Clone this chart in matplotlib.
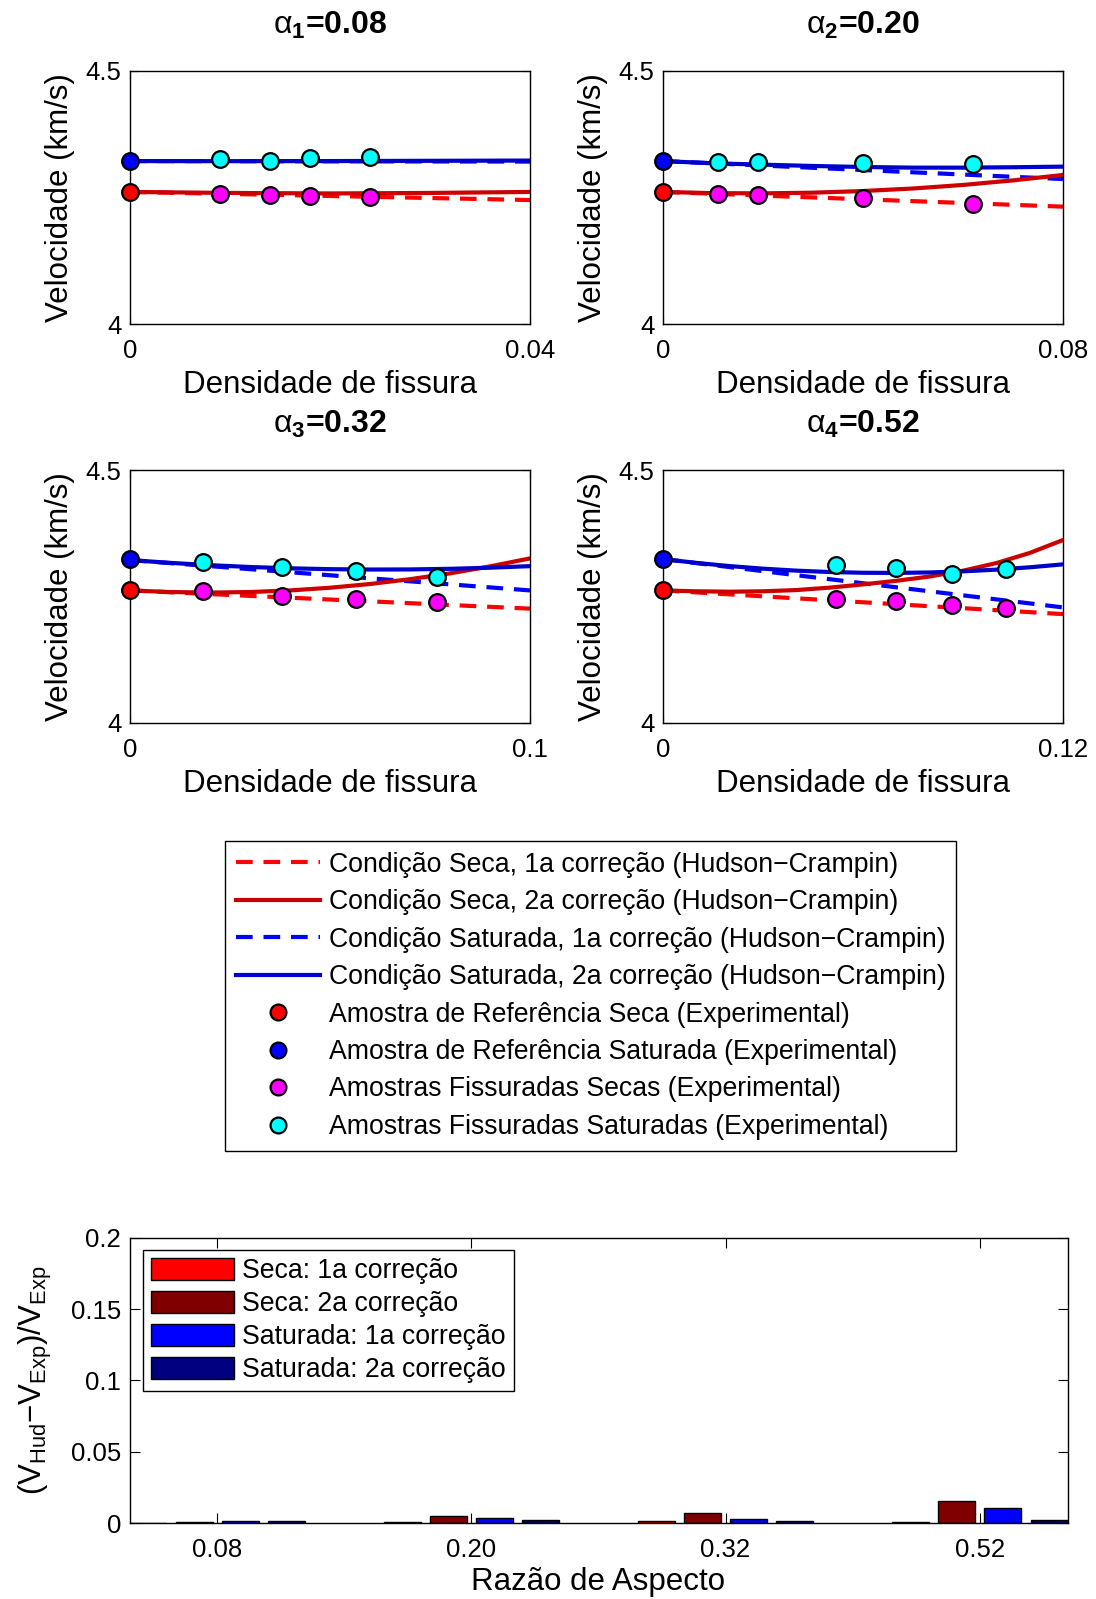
import matplotlib
matplotlib.use('Agg')
import matplotlib.pyplot as plt
from matplotlib.lines import Line2D
from matplotlib.patches import Patch
import numpy as np

plt.rcParams['font.family'] = ['Liberation Sans', 'DejaVu Sans']
plt.rcParams['mathtext.fontset'] = 'custom'
plt.rcParams['mathtext.rm'] = 'Liberation Sans'
plt.rcParams['mathtext.it'] = 'Liberation Sans:italic'
plt.rcParams['mathtext.bf'] = 'Liberation Sans:bold'

# ---------------- data ----------------
alpha_labels = ['0.08', '0.20', '0.32', '0.52']
xmax_vals = [0.04, 0.08, 0.1, 0.12]
xmax_labels = ['0.04', '0.08', '0.1', '0.12']

# model curves (crack density samples and velocities, km/s)
d_a1 = [0.0, 0.01, 0.02, 0.03, 0.04]
dry1_a1 = [4.261, 4.257, 4.253, 4.249, 4.245]
dry2_a1 = [4.261, 4.259, 4.258, 4.259, 4.261]
sat1_a1 = [4.322, 4.3218, 4.3215, 4.3212, 4.321]
sat2_a1 = [4.322, 4.3218, 4.322, 4.3225, 4.323]

d_a2 = [0.0, 0.01, 0.02, 0.03, 0.04, 0.05, 0.06, 0.07, 0.08]
dry1_a2 = [4.261, 4.2574, 4.2537, 4.2501, 4.2464, 4.2428, 4.2392, 4.2355, 4.2319]
dry2_a2 = [4.261, 4.2586, 4.2582, 4.2595, 4.2628, 4.2678, 4.2748, 4.2838, 4.2945]
sat1_a2 = [4.322, 4.3176, 4.3131, 4.3087, 4.3043, 4.2998, 4.2954, 4.2909, 4.2865]
sat2_a2 = [4.322, 4.3176, 4.3149, 4.3123, 4.3103, 4.309, 4.309, 4.3098, 4.311]

d_a3 = [0.0, 0.01, 0.02, 0.03, 0.04, 0.05, 0.06, 0.07, 0.08, 0.09, 0.1]
dry1_a3 = [4.262, 4.2584, 4.2548, 4.2512, 4.2476, 4.244, 4.2404, 4.2368, 4.2332, 4.2296, 4.226]
dry2_a3 = [4.262, 4.2588, 4.2578, 4.2588, 4.262, 4.2673, 4.2747, 4.2842, 4.2957, 4.3095, 4.3253]
sat1_a3 = [4.322, 4.316, 4.310, 4.304, 4.298, 4.292, 4.286, 4.280, 4.274, 4.268, 4.262]
sat2_a3 = [4.322, 4.3165, 4.3119, 4.3083, 4.3057, 4.304, 4.3033, 4.3035, 4.3047, 4.3069, 4.310]

d_a4 = [0.0, 0.01, 0.02, 0.03, 0.04, 0.05, 0.06, 0.07, 0.08, 0.09, 0.1, 0.11, 0.12]
dry1_a4 = [4.262, 4.2581, 4.2542, 4.2503, 4.2464, 4.2425, 4.2386, 4.2347, 4.2308, 4.2269, 4.223, 4.2191, 4.2152]
dry2_a4 = [4.262, 4.2603, 4.2595, 4.2603, 4.2627, 4.2675, 4.2739, 4.281, 4.2895, 4.301, 4.316, 4.336, 4.3616]
sat1_a4 = [4.324, 4.316, 4.3081, 4.3001, 4.2921, 4.2842, 4.2762, 4.2682, 4.2603, 4.2523, 4.2443, 4.2364, 4.2284]
sat2_a4 = [4.324, 4.3164, 4.3101, 4.305, 4.3011, 4.2984, 4.2969, 4.2966, 4.2975, 4.2997, 4.3031, 4.3077, 4.3135]

# experimental points
ref_dry = [4.261, 4.261, 4.262, 4.262]
ref_sat = [4.323, 4.323, 4.324, 4.325]
crack_d_a1 = [0.009, 0.014, 0.018, 0.024]
crack_d_a2 = [0.011, 0.019, 0.040, 0.062]
crack_d_a3 = [0.0183, 0.0379, 0.0564, 0.0767]
crack_d_a4 = [0.0519, 0.0698, 0.0866, 0.1029]
crack_dry_a1 = [4.2569, 4.2543, 4.2536, 4.2516]
crack_dry_a2 = [4.2563, 4.2543, 4.2484, 4.2372]
crack_dry_a3 = [4.2613, 4.2514, 4.2449, 4.2389]
crack_dry_a4 = [4.2443, 4.2403, 4.233, 4.2271]
crack_sat_a1 = [4.3255, 4.3228, 4.3281, 4.3307]
crack_sat_a2 = [4.3202, 4.3202, 4.3176, 4.3156]
crack_sat_a3 = [4.3174, 4.3088, 4.2996, 4.289]
crack_sat_a4 = [4.3115, 4.3068, 4.2943, 4.3036]

# relative error bars
bar_categories = ['0.08', '0.20', '0.32', '0.52']
err_dry1 = [0.0003, 0.0009, 0.0014, 0.0009]
err_dry2 = [0.0010, 0.0049, 0.0072, 0.0156]
err_sat1 = [0.0017, 0.0035, 0.0030, 0.0103]
err_sat2 = [0.0014, 0.0021, 0.0018, 0.0021]

legend_labels = [
    'Condição Seca, 1a correção (Hudson−Crampin)',
    'Condição Seca, 2a correção (Hudson−Crampin)',
    'Condição Saturada, 1a correção (Hudson−Crampin)',
    'Condição Saturada, 2a correção (Hudson−Crampin)',
    'Amostra de Referência Seca (Experimental)',
    'Amostra de Referência Saturada (Experimental)',
    'Amostras Fissuradas Secas (Experimental)',
    'Amostras Fissuradas Saturadas (Experimental)',
]
bar_labels = ['Seca: 1a correção', 'Seca: 2a correção',
              'Saturada: 1a correção', 'Saturada: 2a correção']

# ---------------- style ----------------
W, H = 1096, 1599
fig = plt.figure(figsize=(W / 100, H / 100), dpi=100)
fig.patch.set_facecolor('white')

C_RED_D = '#ff0000'
C_RED_S = '#cc0000'
C_BLU_D = '#0000ff'
C_BLU_S = '#0000cc'
LW = 3.0
DASH = (4, 2.6)
MS = 12
MEW = 1.6
TICK_FS = 18.5
LAB_FS = 22.5
LEG_FS = 19.2

def px_axes(x0, y0, x1, y1):
    return fig.add_axes([x0 / W, 1 - y1 / H, (x1 - x0) / W, (y1 - y0) / H])

panel_boxes = [(130, 71, 530, 324), (663, 71, 1063, 324),
               (130, 470, 530, 723), (663, 470, 1063, 723)]
curves = [
    (d_a1, dry1_a1, dry2_a1, sat1_a1, sat2_a1),
    (d_a2, dry1_a2, dry2_a2, sat1_a2, sat2_a2),
    (d_a3, dry1_a3, dry2_a3, sat1_a3, sat2_a3),
    (d_a4, dry1_a4, dry2_a4, sat1_a4, sat2_a4),
]
points = [
    (crack_d_a1, crack_dry_a1, crack_sat_a1),
    (crack_d_a2, crack_dry_a2, crack_sat_a2),
    (crack_d_a3, crack_dry_a3, crack_sat_a3),
    (crack_d_a4, crack_dry_a4, crack_sat_a4),
]

for i in range(4):
    ax = px_axes(*panel_boxes[i])
    d, dry1, dry2, sat1, sat2 = curves[i]
    cd, cdry, csat = points[i]
    ax.plot(d, dry1, color=C_RED_D, lw=LW, dashes=DASH, zorder=2)
    ax.plot(d, sat1, color=C_BLU_D, lw=LW, dashes=DASH, zorder=2)
    ax.plot(d, dry2, color=C_RED_S, lw=LW, zorder=2)
    ax.plot(d, sat2, color=C_BLU_S, lw=LW, zorder=2)
    mk = dict(ls='none', marker='o', ms=MS, mec='black', mew=MEW, zorder=4, clip_on=False)
    ax.plot([0], [ref_dry[i]], mfc='#ff0000', **mk)
    ax.plot([0], [ref_sat[i]], mfc='#0000ff', **mk)
    ax.plot(cd, cdry, mfc='#ff00ff', **mk)
    ax.plot(cd, csat, mfc='#00ffff', **mk)
    ax.set_xlim(0, xmax_vals[i])
    ax.set_ylim(4, 4.5)
    ax.set_xticks([0, xmax_vals[i]])
    ax.set_xticklabels(['0', xmax_labels[i]])
    ax.set_yticks([4, 4.5])
    ax.set_yticklabels(['4', '4.5'])
    ax.tick_params(direction='in', labelsize=TICK_FS, length=6, top=True, right=True)
    ax.tick_params(axis='x', pad=11)
    ax.tick_params(axis='y', pad=6)
    for s in ax.spines.values():
        s.set_linewidth(1.0)
    ax.set_xlabel('Densidade de fissura', fontsize=LAB_FS, labelpad=5)
    ax.set_ylabel('Velocidade (km/s)', fontsize=LAB_FS, labelpad=8)
    ax.set_title(r'$\mathrm{\alpha}_{\mathbf{%d}}$=%s' % (i + 1, alpha_labels[i]),
                 fontsize=23, fontweight='bold', pad=27)

# ---------------- top legend ----------------
handles = [
    Line2D([], [], color=C_RED_D, lw=LW, dashes=DASH),
    Line2D([], [], color=C_RED_S, lw=LW),
    Line2D([], [], color=C_BLU_D, lw=LW, dashes=DASH),
    Line2D([], [], color=C_BLU_S, lw=LW),
    Line2D([], [], ls='none', marker='o', ms=MS * 0.95, mfc='#ff0000', mec='black', mew=MEW),
    Line2D([], [], ls='none', marker='o', ms=MS * 0.95, mfc='#0000ff', mec='black', mew=MEW),
    Line2D([], [], ls='none', marker='o', ms=MS * 0.95, mfc='#ff00ff', mec='black', mew=MEW),
    Line2D([], [], ls='none', marker='o', ms=MS * 0.95, mfc='#00ffff', mec='black', mew=MEW),
]
leg = fig.legend(handles, legend_labels, loc='upper left',
                 bbox_to_anchor=(225 / W, 1 - 841 / H), borderaxespad=0,
                 fontsize=LEG_FS, handlelength=3.15, handletextpad=0.35,
                 labelspacing=0.43, borderpad=0.4, fancybox=False,
                 framealpha=1, edgecolor='black')
leg.get_frame().set_linewidth(1.0)

# ---------------- bar chart ----------------
axb = px_axes(129.5, 1237.7, 1067.5, 1523.2)
xpos = np.arange(1, len(bar_categories) + 1)
step = 0.182
bw = 0.145
series = [err_dry1, err_dry2, err_sat1, err_sat2]
bar_colors = ['#ff0000', '#800000', '#0000ff', '#000080']
for k, (vals, col, lab) in enumerate(zip(series, bar_colors, bar_labels)):
    axb.bar(xpos + (k - 1.5) * step, vals, width=bw, color=col,
            edgecolor='black', linewidth=1.0, label=lab, zorder=2)
axb.set_xlim(0.654, 4.346)
axb.set_ylim(0, 0.2)
axb.set_xticks(xpos)
axb.set_xticklabels(bar_categories)
axb.set_yticks([0, 0.05, 0.1, 0.15, 0.2])
axb.set_yticklabels(['0', '0.05', '0.1', '0.15', '0.2'])
axb.tick_params(direction='in', labelsize=TICK_FS, length=7, top=True, right=True)
axb.tick_params(axis='x', pad=11)
axb.tick_params(axis='y', pad=6)
for s in axb.spines.values():
    s.set_linewidth(1.0)
axb.set_xlabel('Razão de Aspecto', fontsize=LAB_FS, labelpad=3)
axb.set_ylabel('(V$_{\\mathregular{Hud}}$−V$_{\\mathregular{Exp}}$)/V$_{\\mathregular{Exp}}$',
               fontsize=LAB_FS, labelpad=12)
lb = axb.legend(loc='upper left', bbox_to_anchor=(143 / W, 1 - 1250 / H),
                bbox_transform=fig.transFigure, borderaxespad=0,
                fontsize=LEG_FS, handlelength=3.1, handleheight=0.9,
                handletextpad=0.33, labelspacing=0.25, borderpad=0.3,
                fancybox=False, framealpha=1, edgecolor='black')
lb.get_frame().set_linewidth(1.0)

fig.savefig('out.png', dpi=100, facecolor='white')
